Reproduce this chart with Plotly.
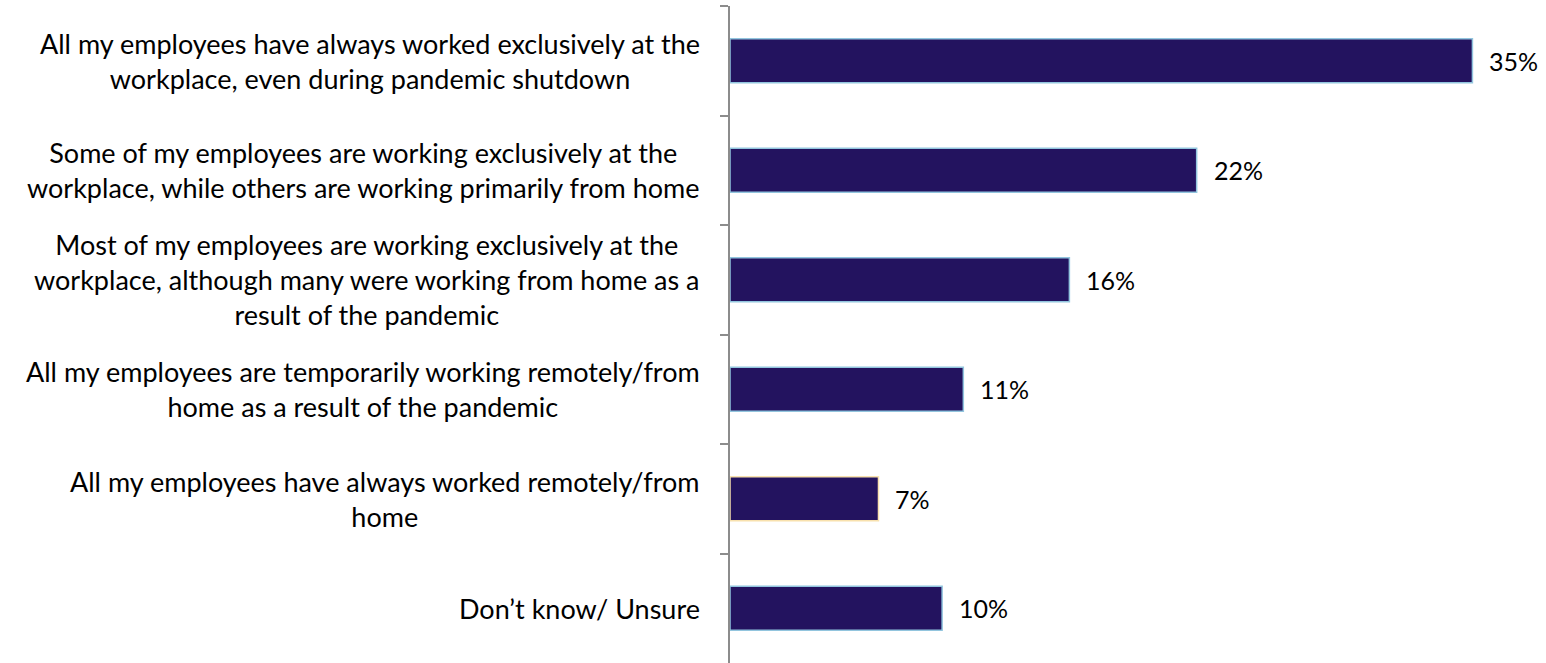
import plotly.graph_objects as go

categories = [
    "All my employees have always worked exclusively at the<br>workplace, even during pandemic shutdown",
    "Some of my employees are working exclusively at the<br>workplace, while others are working primarily from home",
    "Most of my employees are working exclusively at the<br>workplace, although many were working from home as a<br>result of the pandemic",
    "All my employees are temporarily working remotely/from<br>home as a result of the pandemic",
    "All my employees have always worked remotely/from<br>home",
    "Don’t know/ Unsure",
]
values = [35, 22, 16, 11, 7, 10]
border_colors = ["#92C5DE", "#92C5DE", "#92C5DE", "#92C5DE", "#F8E1AE", "#92C5DE"]

FONT = "Lato"
fig = go.Figure()
fig.add_trace(go.Bar(
    x=values, y=categories, orientation="h",
    marker=dict(color="#23135F", line=dict(color=border_colors, width=1.5)),
    width=0.4, hoverinfo="skip",
))

for c, v in zip(categories, values):
    fig.add_annotation(x=0, xref="paper", y=c, yref="y", text=c, showarrow=False,
                       xanchor="right", yanchor="middle", align="center", xshift=-28,
                       font=dict(family=FONT, size=27, color="#000000"))
    fig.add_annotation(x=v, xref="x", y=c, yref="y", text=f"{v}%", showarrow=False,
                       xanchor="left", yanchor="middle", xshift=15,
                       font=dict(family=FONT, size=25, color="#000000"))

fig.update_layout(
    width=1546, height=663,
    margin=dict(l=730, r=46, t=6, b=0),
    plot_bgcolor="white", paper_bgcolor="white",
    showlegend=False,
    xaxis=dict(range=[0, 36.3], visible=False, fixedrange=True),
    yaxis=dict(
        range=[5.5, -0.5], showticklabels=False, fixedrange=True,
        showline=True, linecolor="#8C8C8C", linewidth=1.5,
        ticks="outside", tickson="boundaries", ticklen=8,
        tickcolor="#8C8C8C", tickwidth=1.5, showgrid=False, zeroline=False,
    ),
)
fig.write_html("out.html", config={"displayModeBar": False},
               post_script="document.body.style.margin='0';")
